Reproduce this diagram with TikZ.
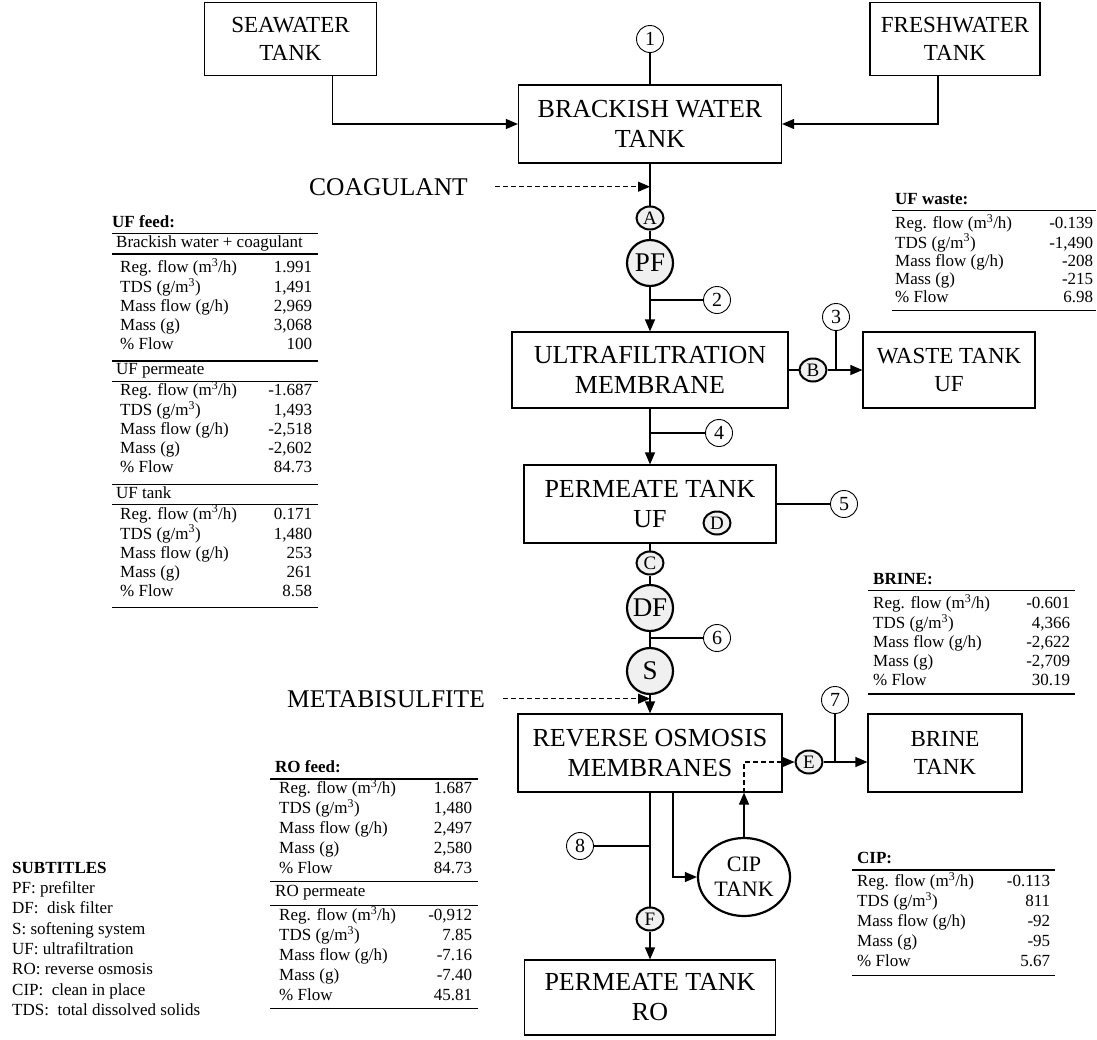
\documentclass[tikz,border=0pt]{standalone}
\usepackage{fontspec}
\setmainfont{Liberation Serif}
\usetikzlibrary{arrows.meta,shapes.geometric}

\setlength{\arrayrulewidth}{1.3pt}
% the five rows that every stream table repeats
\newcommand{\streamrows}[5]{%
  Reg. flow (m\textsuperscript{3}/h) & #1\\
  TDS (g/m\textsuperscript{3}) & #2\\
  Mass flow (g/h) & #3\\
  Mass (g) & #4\\
  \% Flow & #5}

\begin{document}
\begin{tikzpicture}[x=1pt, y=-1pt,
    >={Triangle[length=12pt,width=10pt]},
    unitbox/.style={draw, line width=1.2pt, align=center, inner sep=0pt,
        font=\fontsize{26}{30}\selectfont},
    sidebox/.style={unitbox, font=\fontsize{23}{28}\selectfont},
    numtag/.style={circle, draw, line width=0.9pt, minimum size=27pt,
        inner sep=0pt, font=\fontsize{20}{20}\selectfont},
    lettag/.style={ellipse, draw, line width=2pt, fill=gray!12,
        minimum width=27pt, minimum height=23pt, inner sep=0pt,
        font=\fontsize{19}{19}\selectfont},
    filterball/.style={circle, draw, line width=2.2pt, fill=gray!12,
        minimum size=46pt, inner sep=0pt, font=\fontsize{27}{27}\selectfont},
    cipvessel/.style={ellipse, draw, line width=2.2pt, minimum width=92pt,
        minimum height=78pt, inner sep=0pt, align=center,
        font=\fontsize{22}{25}\selectfont},
    pipe/.style={line width=1.2pt},
    dosing/.style={line width=1.1pt, dash pattern=on 5pt off 3pt},
    chem/.style={anchor=base, inner sep=0pt, font=\fontsize{25.5}{30}\selectfont},
    datatab/.style={anchor=north west, inner sep=0pt, font=\fontsize{17}{19}\selectfont}
]
    \useasboundingbox (0,0) rectangle (1097,1039);

    % Feed tanks on top
    \node[sidebox, minimum width=172pt, minimum height=73pt] (sea) at (290.5,39) {SEAWATER\\TANK};
    \node[sidebox, minimum width=170pt, minimum height=73pt] (fresh) at (955,39) {FRESHWATER\\TANK};
    \node[numtag] (n1) at (650,39) {1};
    \node[unitbox, minimum width=263pt, minimum height=78pt] (bwt) at (650,124) {BRACKISH WATER\\TANK};
    \draw[pipe] (n1) -- (bwt);
    \draw[pipe, ->] ([xshift=42pt]sea.south) |- (bwt.west);
    \draw[pipe, ->] ([xshift=-17pt]fresh.south) |- (bwt.east);

    % Coagulant dosing and prefilter
    \node[chem] (coag) at (388.5,195) {COAGULANT};
    \node[lettag] (tA) at (650,218) {A};
    \node[filterball] (pf) at (650,263) {PF};
    \draw[dosing, ->] ([xshift=27pt]coag.east) -- (coag.east -| tA);
    \draw[pipe] (bwt) -- (tA);
    \draw[pipe] (tA) -- (pf);
    \node[numtag] (n2) at (717,300) {2};
    \draw[pipe] (n2) -- (n2 -| pf);

    % Ultrafiltration and its waste
    \node[unitbox, minimum width=276pt, minimum height=76pt] (ufm) at (650,370) {ULTRAFILTRATION\\MEMBRANE};
    \draw[pipe, ->] (pf) -- (ufm);
    \node[lettag] (tB) at (813,370) {B};
    \node[sidebox, minimum width=172pt, minimum height=76pt] (waste) at (949,370) {WASTE TANK\\UF};
    \node[numtag] (n3) at (836,317) {3};
    \draw[pipe] (ufm) -- (tB);
    \draw[pipe, ->] (tB) -- (waste);
    \draw[pipe] (n3) -- (n3 |- tB);

    % UF permeate tank
    \node[unitbox, minimum width=252pt, minimum height=78pt] (ptuf) at (650,504) {PERMEATE TANK\\UF};
    \node[lettag] (tD) at (717,523) {D};
    \node[numtag] (n4) at (719,433) {4};
    \draw[pipe, ->] (ufm) -- (ptuf);
    \draw[pipe] (n4) -- (n4 -| ufm);
    \node[numtag] (n5) at (844,504) {5};
    \draw[pipe] (ptuf) -- (n5);

    % Disk filter and softening
    \node[lettag] (tC) at (650,563) {C};
    \node[filterball] (df) at (650,608) {DF};
    \node[numtag] (n6) at (717,638) {6};
    \node[filterball] (soft) at (650,671) {S};
    \draw[pipe] (ptuf) -- (tC);
    \draw[pipe] (tC) -- (df);
    \draw[pipe] (df) -- (soft);
    \draw[pipe] (n6) -- (n6 -| df);

    % Reverse osmosis with metabisulfite dosing
    \node[chem] (meta) at (386,707) {METABISULFITE};
    \node[unitbox, minimum width=264pt, minimum height=78pt] (ro) at (650,753) {REVERSE OSMOSIS\\MEMBRANES};
    \draw[pipe, ->] (soft) -- (ro);
    \draw[dosing, ->] ([xshift=18pt]meta.east) -- (meta.east -| ro.north);

    % Brine line
    \node[lettag] (tE) at (809,762) {E};
    \node[numtag] (n7) at (835,700) {7};
    \node[sidebox, minimum width=154pt, minimum height=78pt] (brine) at (945,753) {BRINE\\TANK};
    \draw[pipe, ->] (tE) -- (tE -| brine.west);
    \draw[pipe] (n7) -- (n7 |- tE);

    % Clean in place loop
    \node[cipvessel] (cip) at (744,877) {CIP\\TANK};
    \draw[pipe, ->] (cip) -- (cip |- ro.south);
    \draw[dosing, ->] (cip |- ro.south) |- (tE);
    \draw[pipe, ->] ([xshift=23pt]ro.south) |- (cip);

    % RO permeate
    \node[lettag] (tF) at (650,919) {F};
    \node[numtag] (n8) at (580,846) {8};
    \node[unitbox, minimum width=251pt, minimum height=75pt] (ptro) at (650,997.5) {PERMEATE TANK\\RO};
    \draw[pipe] (ro) -- (tF);
    \draw[pipe, ->] (tF) -- (ptro);
    \draw[pipe] (n8) -- (n8 -| ro);

    % Stream tables
    \node[datatab] (uffeed) at (112,213.7) {%
      \begin{tabular*}{206pt}{@{\hspace{8pt}}l@{\extracolsep{\fill}}r@{\hspace{6pt}}}
        \multicolumn{2}{@{}l}{\textbf{UF feed:}}\\ \hline
        \multicolumn{2}{@{\hspace{4pt}}l}{Brackish water + coagulant}\\ \hline
        \noalign{\vskip 4pt}
        \streamrows{1.991}{1,491}{2,969}{3,068}{100}\\[5pt] \hline
        \multicolumn{2}{@{\hspace{4pt}}l}{UF permeate}\\ \hline
        \streamrows{-1.687}{1,493}{-2,518}{-2,602}{84.73}\\[5pt] \hline
        \multicolumn{2}{@{\hspace{4pt}}l}{UF tank}\\ \hline
        \streamrows{0.171}{1,480}{253}{261}{8.58}\\[5pt] \hline
      \end{tabular*}};

    \node[datatab, font=\fontsize{17}{18}\selectfont] (ufwaste) at (892,191.4) {%
      \begin{tabular*}{204pt}{@{\hspace{3pt}}l@{\extracolsep{\fill}}r@{\hspace{3pt}}}
        \multicolumn{2}{@{\hspace{3pt}}l}{\textbf{UF waste:}}\\ \hline
        \noalign{\vskip 3.5pt}
        \streamrows{-0.139}{-1,490}{-208}{-215}{6.98}\\[2pt] \hline
      \end{tabular*}};

    \node[datatab] (brinetab) at (868,570.7) {%
      \begin{tabular*}{207pt}{@{\hspace{5pt}}l@{\extracolsep{\fill}}r@{\hspace{5pt}}}
        \multicolumn{2}{@{\hspace{5pt}}l}{\textbf{BRINE:}}\\ \hline
        \noalign{\vskip 3.5pt}
        \streamrows{-0.601}{4,366}{-2,622}{-2,709}{30.19}\\[2pt] \hline
      \end{tabular*}};

    \node[datatab, font=\fontsize{17}{20}\selectfont] (rofeed) at (270,758) {%
      \begin{tabular*}{208pt}{@{\hspace{9pt}}l@{\extracolsep{\fill}}r@{\hspace{6pt}}}
        \multicolumn{2}{@{\hspace{5pt}}l}{\textbf{RO feed:}}\\ \hline
        \streamrows{1.687}{1,480}{2,497}{2,580}{84.73}\\[1pt] \hline
        \multicolumn{2}{@{\hspace{5pt}}l}{RO permeate}\\[3pt] \hline
        \streamrows{-0,912}{7.85}{-7.16}{-7.40}{45.81}\\[1pt] \hline
      \end{tabular*}};

    \node[datatab, font=\fontsize{17}{20}\selectfont] (ciptab) at (852,849) {%
      \begin{tabular*}{203pt}{@{\hspace{5pt}}l@{\extracolsep{\fill}}r@{\hspace{5pt}}}
        \multicolumn{2}{@{\hspace{5pt}}l}{\textbf{CIP:}}\\ \hline
        \noalign{\vskip 2pt}
        \streamrows{-0.113}{811}{-92}{-95}{5.67}\\[2pt] \hline
      \end{tabular*}};

    % Legend
    \node[anchor=north west, inner sep=0pt, align=left, font=\fontsize{17}{20.3}\selectfont] (legend) at (12,861.8)
        {\textbf{SUBTITLES}\\PF: prefilter\\DF:~ disk filter\\S: softening system\\UF: ultrafiltration\\RO: reverse osmosis\\CIP:~ clean in place\\TDS:~ total dissolved solids};
\end{tikzpicture}
\end{document}
